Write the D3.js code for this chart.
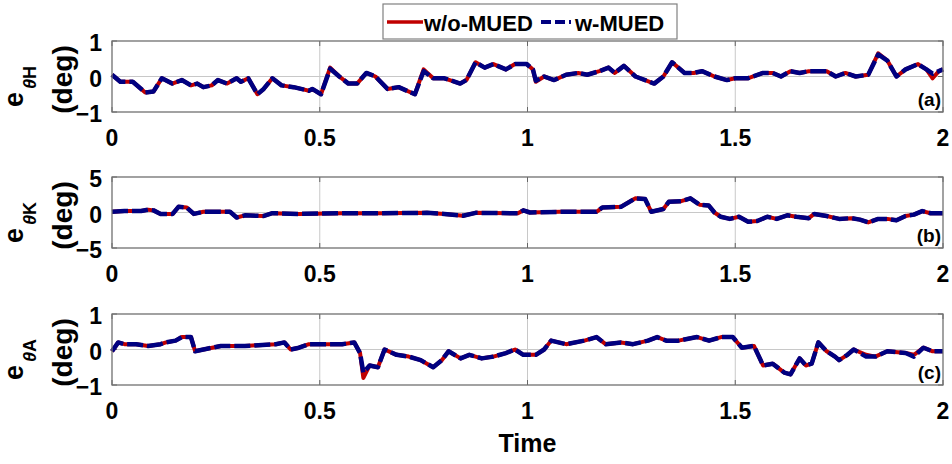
<!DOCTYPE html>
<html><head><meta charset="utf-8">
<script src="https://cdn.jsdelivr.net/npm/d3@7"></script>
<style>body{margin:0;background:#fff}svg{display:block}text{font-family:"Liberation Sans",Arial,sans-serif;font-weight:bold;fill:#000}</style>
</head><body>
<svg id="chart" width="952" height="464"></svg>
<script>
// ---------- data ----------
const xTicks = [0, 0.5, 1, 1.5, 2];
const xTickLabels = ["0", "0.5", "1", "1.5", "2"];
const seriesNames = ["w/o-MUED", "w-MUED"];
const panelTags = ["(a)", "(b)", "(c)"];
const panelSubs = ["θH", "θK", "θA"];
const yTicksA = [-1, 0, 1], yTicksB = [-5, 0, 5], yTicksC = [-1, 0, 1];

const timeA = [0,0.02,0.05,0.08,0.10,0.12,0.145,0.168,0.19,0.205,0.22,0.24,0.255,0.277,0.30,0.31,0.328,0.35,0.365,0.386,0.408,0.437,0.455,0.474,0.482,0.503,0.525,0.547,0.569,0.59,0.612,0.634,0.663,0.69,0.729,0.75,0.773,0.80,0.838,0.853,0.875,0.897,0.918,0.948,0.97,0.998,1.013,1.02,1.04,1.064,1.093,1.122,1.144,1.173,1.195,1.21,1.232,1.26,1.305,1.327,1.348,1.378,1.40,1.42,1.45,1.48,1.50,1.53,1.567,1.59,1.61,1.633,1.655,1.677,1.72,1.742,1.765,1.79,1.82,1.844,1.866,1.888,1.91,1.94,1.96,1.975,1.99,2.0];
const woA = [0.05,-0.15,-0.15,-0.45,-0.42,-0.05,-0.2,-0.1,-0.25,-0.2,-0.3,-0.25,-0.1,-0.2,-0.05,-0.15,-0.05,-0.5,-0.35,-0.05,-0.25,-0.3,-0.35,-0.4,-0.35,-0.5,0.25,0.0,-0.2,-0.2,0.1,0.0,-0.35,-0.3,-0.5,0.2,-0.05,-0.05,-0.2,-0.1,0.4,0.25,0.35,0.2,0.35,0.35,0.2,-0.15,0.0,-0.1,0.05,0.1,0.05,0.15,0.25,0.1,0.3,0.0,-0.2,0.0,0.4,0.1,0.1,0.15,0.0,-0.1,-0.05,-0.05,0.1,0.1,0.0,0.15,0.1,0.15,0.15,0.0,0.1,0.0,0.05,0.65,0.45,0.0,0.2,0.35,0.2,-0.05,0.15,0.2];
const wA  = [0.05,-0.15,-0.15,-0.45,-0.42,-0.05,-0.2,-0.1,-0.25,-0.2,-0.3,-0.25,-0.1,-0.2,-0.05,-0.15,-0.05,-0.5,-0.35,-0.05,-0.25,-0.3,-0.35,-0.4,-0.35,-0.5,0.22,0.0,-0.2,-0.2,0.1,0.0,-0.35,-0.3,-0.5,0.15,-0.05,-0.05,-0.2,-0.1,0.4,0.25,0.35,0.2,0.35,0.35,0.2,-0.12,0.0,-0.1,0.05,0.1,0.05,0.15,0.25,0.1,0.3,0.0,-0.2,0.0,0.4,0.1,0.1,0.15,0.0,-0.1,-0.05,-0.05,0.1,0.1,0.0,0.15,0.1,0.15,0.15,0.0,0.1,0.0,0.05,0.62,0.45,0.0,0.2,0.35,0.2,0.08,0.15,0.2];

const timeB = [0,0.03,0.07,0.087,0.1,0.117,0.146,0.16,0.18,0.197,0.22,0.284,0.3,0.32,0.364,0.386,0.45,0.55,0.65,0.758,0.8,0.845,0.875,0.977,0.99,1.006,1.08,1.166,1.18,1.225,1.26,1.283,1.298,1.327,1.34,1.37,1.392,1.414,1.436,1.45,1.465,1.487,1.509,1.531,1.553,1.577,1.6,1.625,1.647,1.677,1.69,1.72,1.75,1.78,1.8,1.82,1.844,1.866,1.888,1.91,1.93,1.95,1.97,2.0];
const woB = [0.1,0.2,0.2,0.4,0.3,-0.2,-0.2,0.8,0.7,-0.2,0.1,0.1,-0.7,-0.4,-0.5,-0.1,-0.2,-0.1,-0.1,-0.05,-0.2,-0.45,-0.05,-0.1,0.3,0.0,0.1,0.1,0.7,0.8,2.0,1.9,0.1,0.5,1.5,1.6,2.0,1.1,1.0,0.0,-0.6,-0.9,-0.6,-1.3,-1.2,-0.6,-0.9,-0.4,-0.6,-0.8,-0.2,-0.5,-0.9,-0.8,-1.0,-1.4,-0.9,-0.9,-1.1,-0.5,-0.3,0.2,-0.1,-0.1];
const wB  = [0.1,0.2,0.2,0.4,0.3,-0.2,-0.2,0.8,0.7,-0.2,0.1,0.1,-0.7,-0.4,-0.5,-0.1,-0.2,-0.1,-0.1,-0.05,-0.2,-0.45,-0.05,-0.1,0.3,0.0,0.1,0.1,0.7,0.8,2.0,1.9,0.1,0.5,1.5,1.6,2.0,1.1,1.0,0.0,-0.6,-0.9,-0.6,-1.3,-1.2,-0.6,-0.9,-0.4,-0.6,-0.8,-0.2,-0.5,-0.9,-0.8,-1.0,-1.4,-0.9,-0.9,-1.1,-0.5,-0.3,0.2,-0.1,-0.1];

const timeC = [0,0.015,0.03,0.058,0.087,0.117,0.13,0.153,0.168,0.19,0.2,0.22,0.262,0.32,0.394,0.415,0.43,0.45,0.474,0.554,0.583,0.597,0.605,0.62,0.64,0.656,0.685,0.714,0.743,0.773,0.794,0.81,0.839,0.86,0.89,0.918,0.948,0.97,0.99,1.02,1.04,1.057,1.093,1.137,1.166,1.188,1.225,1.254,1.29,1.312,1.334,1.363,1.408,1.437,1.466,1.494,1.516,1.545,1.567,1.59,1.618,1.633,1.655,1.67,1.684,1.7,1.72,1.74,1.75,1.77,1.785,1.815,1.837,1.866,1.91,1.93,1.953,1.975,2.0];
const woC = [-0.05,0.2,0.15,0.15,0.1,0.15,0.2,0.25,0.35,0.35,-0.05,0.0,0.1,0.1,0.15,0.2,0.0,0.05,0.15,0.15,0.2,-0.1,-0.8,-0.45,-0.5,0.0,-0.15,-0.2,-0.3,-0.5,-0.3,-0.05,-0.25,-0.15,-0.25,-0.2,-0.1,0.0,-0.15,-0.15,0.0,0.25,0.15,0.25,0.35,0.15,0.2,0.15,0.25,0.35,0.25,0.25,0.35,0.25,0.35,0.35,0.05,0.1,-0.45,-0.4,-0.65,-0.7,-0.25,-0.45,-0.4,0.2,-0.05,-0.2,-0.3,-0.15,0.0,-0.15,-0.2,-0.05,-0.1,-0.15,0.05,-0.05,-0.05];
const wC  = [-0.05,0.2,0.15,0.15,0.1,0.15,0.2,0.25,0.35,0.35,-0.05,0.0,0.1,0.1,0.15,0.2,0.0,0.05,0.15,0.15,0.2,-0.1,-0.65,-0.45,-0.5,0.0,-0.15,-0.2,-0.3,-0.5,-0.3,-0.05,-0.25,-0.15,-0.25,-0.2,-0.1,0.0,-0.15,-0.15,0.0,0.25,0.15,0.25,0.35,0.15,0.2,0.15,0.25,0.35,0.25,0.25,0.35,0.25,0.35,0.35,0.05,0.1,-0.45,-0.4,-0.65,-0.7,-0.25,-0.45,-0.4,0.2,-0.05,-0.2,-0.3,-0.15,0.0,-0.2,-0.2,-0.05,-0.1,-0.2,0.05,-0.05,-0.05];

// ---------- layout ----------
const svg = d3.select("#chart");
const L = 112, R = 943, PH = 71;
const tops = [41, 177, 314];
const red = "#c00000", blue = "#000080";
const dash = "16,4";
const x = d3.scaleLinear().domain([0, 2]).range([L, R]);

const panels = [
  {t: timeA, wo: woA, w: wA, yt: yTicksA, dom: [-1, 1]},
  {t: timeB, wo: woB, w: wB, yt: yTicksB, dom: [-5, 5]},
  {t: timeC, wo: woC, w: wC, yt: yTicksC, dom: [-1, 1]}
];

panels.forEach((p, i) => {
  const top = tops[i], bot = top + PH;
  const y = d3.scaleLinear().domain(p.dom).range([bot, top]);
  const g = svg.append("g");
  g.append("rect").attr("x", L).attr("y", top).attr("width", R - L).attr("height", PH).attr("fill", "#fff");
  // grid
  g.selectAll(".gx").data(xTicks.slice(1, -1)).join("line")
    .attr("x1", d => x(d)).attr("x2", d => x(d)).attr("y1", top).attr("y2", bot)
    .attr("stroke", "#c8c8c8").attr("stroke-width", 1);
  g.append("line").attr("x1", L).attr("x2", R).attr("y1", y(0)).attr("y2", y(0))
    .attr("stroke", "#c8c8c8").attr("stroke-width", 1);
  // inward ticks
  xTicks.forEach(v => {
    g.append("line").attr("x1", x(v)).attr("x2", x(v)).attr("y1", bot).attr("y2", bot - 5).attr("stroke", "#666");
    g.append("line").attr("x1", x(v)).attr("x2", x(v)).attr("y1", top).attr("y2", top + 5).attr("stroke", "#666");
  });
  p.yt.forEach(v => {
    g.append("line").attr("x1", L).attr("x2", L + 5).attr("y1", y(v)).attr("y2", y(v)).attr("stroke", "#666");
    g.append("line").attr("x1", R).attr("x2", R - 5).attr("y1", y(v)).attr("y2", y(v)).attr("stroke", "#666");
  });
  // lines
  const line = arr => d3.line().x((d, k) => x(p.t[k])).y(d => y(d))(arr);
  const clipId = "clip" + i;
  svg.append("clipPath").attr("id", clipId).append("rect").attr("x", L - 3).attr("y", top - 6).attr("width", R - L + 6).attr("height", PH + 12);
  g.append("path").attr("d", line(p.wo)).attr("fill", "none").attr("stroke", red).attr("stroke-width", 4).attr("stroke-linejoin", "round").attr("clip-path", `url(#${clipId})`);
  g.append("path").attr("d", line(p.w)).attr("fill", "none").attr("stroke", blue).attr("stroke-width", 4.5).attr("stroke-linejoin", "round").attr("stroke-dasharray", dash).attr("clip-path", `url(#${clipId})`);
  // box
  g.append("rect").attr("x", L).attr("y", top).attr("width", R - L).attr("height", PH)
    .attr("fill", "none").attr("stroke", "#707070").attr("stroke-width", 1.3);
  // tick labels
  g.selectAll(".xl").data(xTicks).join("text")
    .attr("x", d => x(d)).attr("y", bot + 34).attr("text-anchor", "middle")
    .attr("font-size", 23).text((d, k) => xTickLabels[k]);
  g.selectAll(".yl").data(p.yt).join("text")
    .attr("x", 102).attr("y", d => y(d) + 10).attr("text-anchor", "end")
    .attr("font-size", 23).text(d => d3.format("d")(d));
  // panel tag
  g.append("text").attr("x", 941).attr("y", bot - 6).attr("text-anchor", "end")
    .attr("font-size", 19).text(panelTags[i]);
  // y label
  const cy = top + PH / 2;
  const t1 = g.append("text").attr("transform", `translate(23,${top + 66}) rotate(-90)`)
    .attr("text-anchor", "start").attr("font-size", 27);
  t1.append("tspan").text("e");
  t1.append("tspan").attr("font-size", 18).attr("dx", 3).attr("dy", 13).attr("font-style", "italic").text(panelSubs[i].charAt(0));
  t1.append("tspan").attr("font-size", 18).text(panelSubs[i].slice(1));
  g.append("text").attr("transform", `translate(72,${cy + 3}) rotate(-90)`)
    .attr("text-anchor", "middle").attr("font-size", 28).text("(deg)");
});

// x axis title
svg.append("text").attr("x", (L + R) / 2).attr("y", 452).attr("text-anchor", "middle")
  .attr("font-size", 25).text("Time");

// legend
const lg = svg.append("g");
lg.append("rect").attr("x", 383).attr("y", 4).attr("width", 294).attr("height", 35)
  .attr("fill", "#fff").attr("stroke", "#808080").attr("stroke-width", 1.2);
lg.append("line").attr("x1", 387).attr("x2", 423).attr("y1", 22).attr("y2", 22)
  .attr("stroke", red).attr("stroke-width", 3.5);
lg.append("text").attr("x", 424).attr("y", 31).attr("font-size", 22).text(seriesNames[0]);
lg.append("line").attr("x1", 541).attr("x2", 573).attr("y1", 22).attr("y2", 22)
  .attr("stroke", blue).attr("stroke-width", 4).attr("stroke-dasharray", "10,4,10,4,2,4");
lg.append("text").attr("x", 575).attr("y", 31).attr("font-size", 22).text(seriesNames[1]);
</script>
</body></html>
